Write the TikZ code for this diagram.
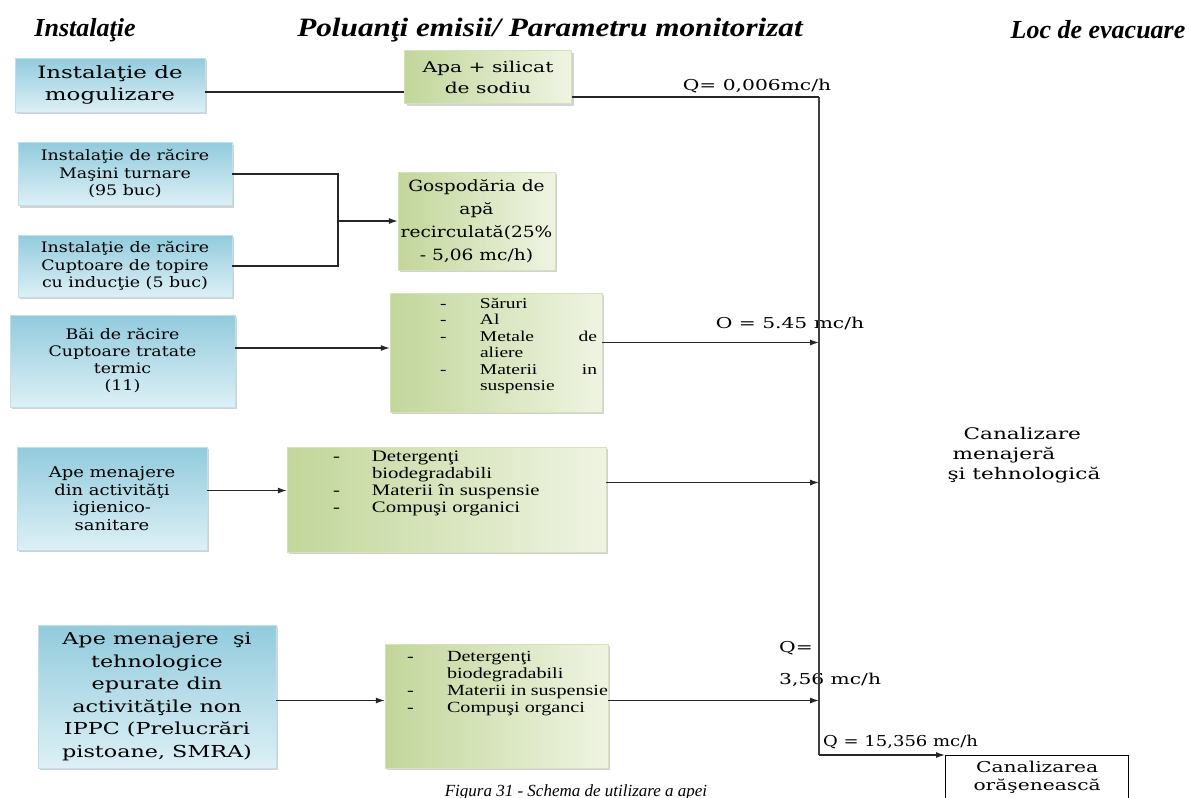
\documentclass[tikz,border=0pt]{standalone}
\usepackage{fontspec}
\setmainfont{Liberation Serif}
\newfontfamily\bxf[FakeStretch=1.2]{DejaVu Serif}
\newfontfamily\bxw[FakeStretch=1.35]{DejaVu Serif}
\newfontfamily\lsf[FakeStretch=1.3]{Liberation Serif}
\usetikzlibrary{shadows,arrows.meta}
\definecolor{blueD}{HTML}{92CBDD}
\definecolor{blueL}{HTML}{DDF0F6}
\definecolor{greenD}{HTML}{C2D69A}
\definecolor{greenL}{HTML}{EFF4E2}
\newlength\dashw
\newcommand{\dashitem}[1]{\makebox[\dashw][l]{-}#1\\}
\newcommand{\contitem}[1]{\hspace*{\dashw}#1\\}
\begin{document}
\begin{tikzpicture}[x=1pt,y=-1pt,
  bbox/.style={rectangle, inner sep=1pt, align=center, top color=blueD, bottom color=blueL, draw=blueD!60, line width=0.4pt,
    drop shadow={shadow xshift=2pt, shadow yshift=-2pt, opacity=0.35}},
  gbox/.style={rectangle, inner sep=0pt, left color=greenD, right color=greenL, draw=greenD!70, line width=0.4pt,
    drop shadow={shadow xshift=2pt, shadow yshift=-2pt, opacity=0.35}},
  conn/.style={line width=1.2pt, black!85},
  arr/.style={conn, -{Latex[length=9pt,width=6pt]}},
  bus/.style={line width=1.8pt, black!75},
  lbl/.style={inner sep=0pt, font=\bxw\fontsize{15}{18}\selectfont},
  ttl/.style={inner sep=0pt, font=\fontsize{26}{30}\selectfont\bfseries\itshape},
]
\useasboundingbox (0,0) rectangle (1189,798);
\fill[white] (0,0) rectangle (1189,798);

% titles
\node[ttl] (t1) at (85,30) {Instalaţie};
\node[ttl] (t2) at (550,30) {\scalebox{1.2}[1.02]{Poluanţi emisii/ Parametru monitorizat}};
\node[ttl] (t3) at (1098,30) {Loc de evacuare};

% installation boxes
\node[bbox, minimum width=190pt, minimum height=54pt, font=\bxw\fontsize{17}{22}\selectfont] (A) at (110,85) {Instalaţie de\\mogulizare};
\node[bbox, minimum width=214pt, minimum height=63pt, font=\bxf\fontsize{14.5}{17.5}\selectfont] (C) at (125,174) {Instalaţie de răcire\\Maşini turnare\\(95 buc)};
\node[bbox, minimum width=214pt, minimum height=62pt, font=\bxf\fontsize{14.5}{17.5}\selectfont] (D) at (125,266) {Instalaţie de răcire\\Cuptoare de topire\\cu inducţie (5 buc)};
\node[bbox, minimum width=225pt, minimum height=92pt, font=\bxf\fontsize{14.5}{17}\selectfont] (E) at (122.5,361) {Băi de răcire\\Cuptoare tratate\\termic\\(11)};
\node[bbox, minimum width=190pt, minimum height=103pt, font=\bxf\fontsize{15}{17.5}\selectfont] (G) at (112,498.5) {Ape menajere\\din activităţi\\igienico-\\sanitare};
\node[bbox, minimum width=238pt, minimum height=143pt, font=\bxw\fontsize{16.5}{22.5}\selectfont] (I) at (157,696.5) {Ape menajere\ \ şi\\tehnologice\\epurate din\\activităţile non\\IPPC (Prelucrări\\pistoane, SMRA)};

% pollutant boxes
\node[gbox, inner sep=1pt, align=center, minimum width=167pt, minimum height=53pt, font=\bxw\fontsize{15}{21}\selectfont] (B) at (488,77) {Apa + silicat\\de sodiu};
\node[gbox, inner sep=1pt, align=center, minimum width=157pt, minimum height=98pt, font=\bxf\fontsize{15.5}{23}\selectfont] (W) at (476.5,221) {Gospodăria de\\apă\\recirculată(25\%\\- 5,06 mc/h)};
\node[gbox, minimum width=212pt, minimum height=119pt] (F) at (496,352.5) {\begin{minipage}[c][119pt][t]{212pt}\lsf\fontsize{15}{16.5}\selectfont\setlength\dashw{40pt}\vspace{5pt}\leftskip=50pt
\dashitem{Săruri}\dashitem{Al}\dashitem{\makebox[117pt][s]{Metale de}}\contitem{aliere}\dashitem{\makebox[117pt][s]{Materii in}}\contitem{suspensie}\end{minipage}};
\node[gbox, minimum width=319pt, minimum height=105pt] (H) at (446.5,499.5) {\begin{minipage}[c][105pt][t]{319pt}\lsf\fontsize{16}{17}\selectfont\setlength\dashw{39pt}\vspace{4pt}\leftskip=46pt
\dashitem{Detergenţi}\contitem{biodegradabili}\dashitem{Materii în suspensie}\dashitem{Compuşi organici}\end{minipage}};
\node[gbox, minimum width=223pt, minimum height=124pt] (J) at (496.5,706) {\begin{minipage}[c][124pt][t]{223pt}\lsf\fontsize{15.5}{17}\selectfont\setlength\dashw{40pt}\vspace{7pt}\leftskip=22pt
\dashitem{Detergenţi}\contitem{biodegradabili}\dashitem{Materii in suspensie}\dashitem{Compuşi organci}\end{minipage}};

% outlet
\node[draw, line width=1.3pt, fill=white, minimum width=183pt, minimum height=44pt, anchor=north west, align=center, inner sep=2pt, font=\bxw\fontsize{15}{18}\selectfont] (K) at (945,755) {Canalizarea\\orăşenească};
\node[lbl, align=left, font=\bxw\fontsize{16}{20}\selectfont] (CT) at (1024,455) {\hspace*{16pt}Canalizare\\\hspace*{5pt}menajeră\\şi tehnologică};

% flow labels
\node[lbl] (q1) at (757,86) {Q= 0,006mc/h};
\node[lbl] (q2) at (790,323) {O = 5.45 mc/h};
\node[lbl, anchor=west] (q3) at (779,648) {Q=};
\node[lbl, anchor=west] (q4) at (779,680) {3,56 mc/h};
\node[lbl, anchor=west, font=\bxf\fontsize{15}{18}\selectfont] (q5) at (823,742) {Q = 15,356 mc/h};

% caption (at the page edge, as in the original)
\node[anchor=base, inner sep=0pt, font=\fontsize{17}{20}\selectfont\itshape] (cap) at (576,796) {Figura 31 - Schema de utilizare a apei};

% connectors
\coordinate (busx) at (819,0);
\coordinate (jx) at (338,0);
\path (A.east) ++(0,7) coordinate (a1);
\draw[conn] (a1) -- (a1 -| B.west);
\path (B.east) ++(0,20) coordinate (b1);
\draw[conn] (b1) -- (b1 -| busx);
\draw[bus] (b1 -| busx) -- (busx |- K.north west);
\draw[arr] (busx |- K.north west) -- (K.north west);
\draw[conn] (C.east) -- (C.east -| jx) -- (D.east -| jx) -- (D.east);
\draw[arr] (jx |- W.west) -- (W.west);
\path (E.east) ++(0,-13) coordinate (e1);
\draw[arr] (e1) -- (e1 -| F.west);
\path (F.east) ++(0,-10) coordinate (f1);
\draw[arr] (f1) -- (f1 -| busx);
\path (G.east) ++(0,-8) coordinate (g1);
\draw[arr] (g1) -- (g1 -| H.west);
\path (H.east) ++(0,-17) coordinate (h1);
\draw[arr] (h1) -- (h1 -| busx);
\path (I.east) ++(0,4) coordinate (i1);
\draw[arr] (i1) -- (i1 -| J.west);
\draw[arr] (i1 -| J.east) -- (i1 -| busx);
\end{tikzpicture}
\end{document}
